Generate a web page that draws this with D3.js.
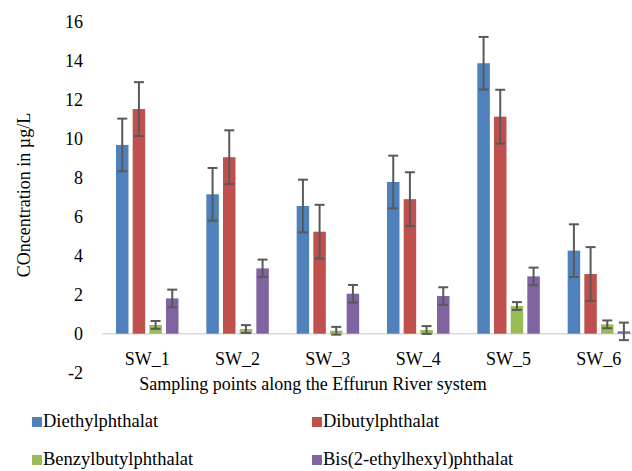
<!DOCTYPE html>
<html>
<head>
<meta charset="utf-8">
<script src="https://cdn.jsdelivr.net/npm/d3@7"></script>
</head>
<body style="margin:0">
<svg id="chart" width="632" height="471"></svg>
<script>
// sampling sites and the four phthalates measured at each one
let sites = ["SW_1", "SW_2", "SW_3", "SW_4", "SW_5", "SW_6"];
let seriesNames = ["Diethylphthalat", "Dibutylphthalat", "Benzylbutylphthalat", "Bis(2-ethylhexyl)phthalat"];
let seriesColors = ["#4F81BD", "#C0504D", "#9BBB59", "#8064A2"];

let diethyl = [9.68, 7.15, 6.55, 7.78, 13.87, 4.26];
let dibutyl = [11.52, 9.05, 5.23, 6.9, 11.13, 3.06];
let benzylbutyl = [0.45, 0.24, 0.15, 0.19, 1.42, 0.48];
let bisEthylhexyl = [1.81, 3.35, 2.05, 1.93, 2.94, 0.12];

// error bar half-widths, one per series
let errors = [1.35, 1.38, 0.2, 0.45];

let yTicks = [-2, 0, 2, 4, 6, 8, 10, 12, 14, 16];

let seriesValues = [diethyl, dibutyl, benzylbutyl, bisEthylhexyl];

let svg = d3.select("#chart");

// text is set at 24px and scaled down, the serif face only came through that way
let textScale = 0.75;
function place(x, y, rot) {
    return "translate(" + x + "," + y + ")" + (rot ? " rotate(" + rot + ")" : "") + " scale(" + textScale + ")";
}

// plot area runs off the right edge of the picture, as in the original
let x0 = d3.scaleBand().domain(sites).range([102, 644]).padding(0);
let x1 = d3.scaleBand().domain(seriesNames).range([14, 76.5]).paddingInner(0.25).paddingOuter(0);
let y = d3.scaleLinear().domain([-2, 16]).range([372.7, 21.7]);

// y tick labels (no axis line in the original)
svg.selectAll(".ytick")
    .data(yTicks)
    .enter().append("text")
    .attr("class", "ytick")
    .attr("transform", d => place(83, y(d) + 6))
    .attr("text-anchor", "end")
    .attr("font-family", "Liberation Serif")
    .attr("font-size", 24)
    .text(d => d);

// zero line
svg.append("line")
    .attr("x1", x0.range()[0])
    .attr("x2", x0.range()[1])
    .attr("y1", y(0))
    .attr("y2", y(0))
    .attr("stroke", "#d9d9d9")
    .attr("stroke-width", 1.5);

// bars
let groups = svg.append("g")
    .selectAll("g")
    .data(sites)
    .enter().append("g")
    .attr("transform", d => "translate(" + x0(d) + ",0)");

let cells = groups.selectAll("g")
    .data((site, si) => seriesNames.map((name, k) => ({name: name, k: k, value: seriesValues[k][si]})))
    .enter().append("g");

cells.append("rect")
    .attr("x", d => x1(d.name))
    .attr("width", x1.bandwidth())
    .attr("y", d => y(Math.max(0, d.value)))
    .attr("height", d => Math.abs(y(d.value) - y(0)))
    .attr("fill", d => seriesColors[d.k]);

// error bars
let capHalf = 5;
cells.append("line")
    .attr("x1", d => x1(d.name) + x1.bandwidth() / 2)
    .attr("x2", d => x1(d.name) + x1.bandwidth() / 2)
    .attr("y1", d => y(d.value + errors[d.k]))
    .attr("y2", d => y(d.value - errors[d.k]))
    .attr("stroke", "#595959")
    .attr("stroke-width", 2);

cells.selectAll(".cap")
    .data(d => [d.value + errors[d.k], d.value - errors[d.k]].map(v => ({cx: x1(d.name) + x1.bandwidth() / 2, v: v})))
    .enter().append("line")
    .attr("class", "cap")
    .attr("x1", d => d.cx - capHalf)
    .attr("x2", d => d.cx + capHalf)
    .attr("y1", d => y(d.v))
    .attr("y2", d => y(d.v))
    .attr("stroke", "#595959")
    .attr("stroke-width", 2);

// site labels
svg.selectAll(".site")
    .data(sites)
    .enter().append("text")
    .attr("class", "site")
    .attr("transform", d => place(x0(d) + x0.bandwidth() / 2, 365))
    .attr("text-anchor", "middle")
    .attr("font-family", "Liberation Serif")
    .attr("font-size", 24)
    .text(d => d);

// axis titles
svg.append("text")
    .attr("transform", place(313, 390))
    .attr("text-anchor", "middle")
    .attr("font-family", "Liberation Serif")
    .attr("font-size", 24)
    .text("Sampling points along the Effurun River system");

svg.append("text")
    .attr("transform", place(30, 195, -90))
    .attr("text-anchor", "middle")
    .attr("font-family", "Liberation Serif")
    .attr("font-size", 24)
    .text("COncentration in \u00b5g/L");

// legend, two columns by two rows
let legendPos = [[32, 417], [312, 417], [32, 455], [312, 455]];
let legend = svg.selectAll(".legend")
    .data(seriesNames)
    .enter().append("g")
    .attr("class", "legend")
    .attr("transform", (d, i) => "translate(" + legendPos[i][0] + "," + legendPos[i][1] + ")");

legend.append("rect")
    .attr("width", 10)
    .attr("height", 10)
    .attr("fill", (d, i) => seriesColors[i]);

legend.append("text")
    .attr("transform", place(11, 10))
    .attr("font-family", "Liberation Serif")
    .attr("font-size", 24.7)
    .text(d => d);
</script>
</body>
</html>
